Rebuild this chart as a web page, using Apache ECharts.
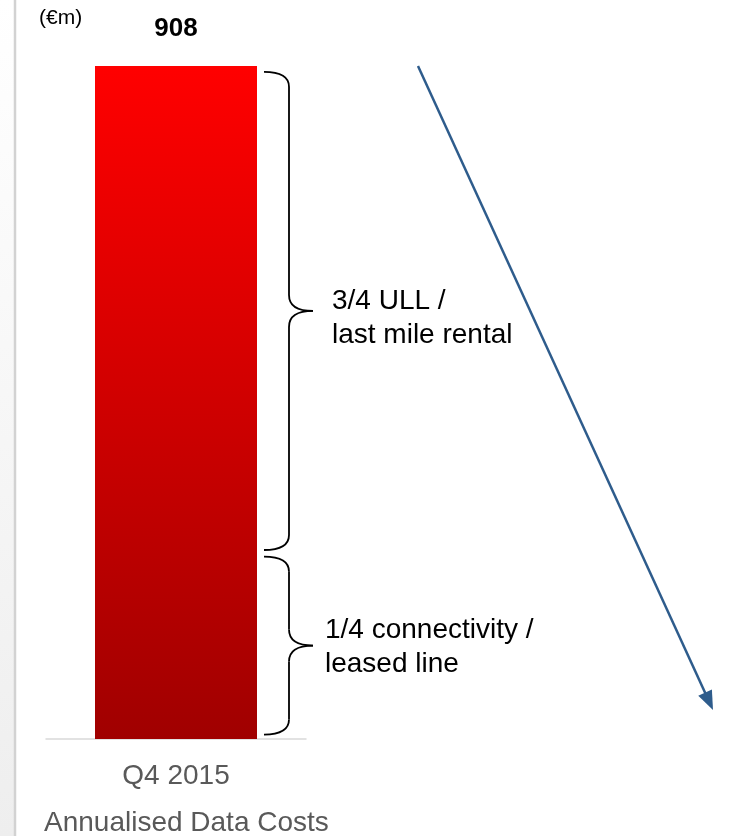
<!DOCTYPE html>
<html>
<head>
<meta charset="utf-8">
<script src="https://cdn.jsdelivr.net/npm/echarts@6/dist/echarts.min.js"></script>
<style>
html,body{margin:0;padding:0;background:#fff;}
#main{width:733px;height:836px;}
</style>
</head>
<body>
<div id="main"></div>
<script>
// ---- data ----
const categories = ['Q4 2015'];
const costValues = [908];
const unitLabel = '(€m)';
const axisTitle = 'Annualised Data Costs';
// brace ranges in €m, bottom -> top
const braceRanges = [[6, 246], [255, 900]];
const braceLabels = ['1/4 connectivity /\nleased line', '3/4 ULL /\nlast mile rental'];

const FONT = '"Liberation Sans", Arial, sans-serif';
const chart = echarts.init(document.getElementById('main'), null, {renderer: 'canvas'});

const option = {
  animation: false,
  backgroundColor: '#ffffff',
  grid: {left: 46, width: 260, top: 66, bottom: 97},
  xAxis: {
    type: 'category',
    data: categories,
    axisLine: {show: true, lineStyle: {color: '#d9d9d9', width: 1.5}},
    axisTick: {show: false},
    axisLabel: {color: '#595959', fontSize: 28, fontFamily: FONT, margin: 23}
  },
  yAxis: {
    type: 'value', min: 0, max: 908, show: false,
    splitLine: {show: false}
  },
  series: [{
    type: 'bar',
    data: costValues,
    barWidth: 162,
    itemStyle: {
      color: new echarts.graphic.LinearGradient(0, 0, 0, 1, [
        {offset: 0, color: '#ff0000'},
        {offset: 1, color: '#a00000'}
      ])
    },
    label: {
      show: true, position: 'top', distance: 24,
      color: '#000', fontWeight: 'bold', fontSize: 26, fontFamily: FONT
    }
  }]
};
chart.setOption(option);

function buildGraphics() {
  const g = [];
  // left edge decoration
  g.push({type: 'rect', shape: {x: 0, y: 0, width: 14, height: 836},
    style: {fill: new echarts.graphic.LinearGradient(0, 0, 0, 1, [
      {offset: 0, color: '#ffffff'}, {offset: 1, color: '#eeeeee'}])}, silent: true});
  g.push({type: 'line', shape: {x1: 15, y1: 0, x2: 15, y2: 836},
    style: {stroke: '#d2d2d2', lineWidth: 2.5}, silent: true});

  g.push({type: 'text', x: 39, y: 18,
    style: {text: unitLabel, fontSize: 21, fontFamily: FONT, fill: '#000', verticalAlign: 'middle'}});
  g.push({type: 'text', x: 44, y: 823,
    style: {text: axisTitle, fontSize: 28, fontFamily: FONT, fill: '#595959', verticalAlign: 'middle'}});

  // braces
  const x0 = 264, xv = 289, xt = 313, rEnd = 15, rMid = 16;
  const bs = {fill: null, stroke: '#000', lineWidth: 1.8};
  braceRanges.forEach((r, i) => {
    const yb = chart.convertToPixel({yAxisIndex: 0}, r[0]);
    const yt = chart.convertToPixel({yAxisIndex: 0}, r[1]);
    const ym = (yt + yb) / 2;
    g.push({type: 'bezierCurve', shape: {x1: x0, y1: yt, cpx1: xv, cpy1: yt, x2: xv, y2: yt + rEnd}, style: bs, silent: true});
    g.push({type: 'line', shape: {x1: xv, y1: yt + rEnd, x2: xv, y2: ym - rMid}, style: bs, silent: true});
    g.push({type: 'bezierCurve', shape: {x1: xv, y1: ym - rMid, cpx1: xv, cpy1: ym, x2: xt, y2: ym}, style: bs, silent: true});
    g.push({type: 'bezierCurve', shape: {x1: xt, y1: ym, cpx1: xv, cpy1: ym, x2: xv, y2: ym + rMid}, style: bs, silent: true});
    g.push({type: 'line', shape: {x1: xv, y1: ym + rMid, x2: xv, y2: yb - rEnd}, style: bs, silent: true});
    g.push({type: 'bezierCurve', shape: {x1: xv, y1: yb - rEnd, cpx1: xv, cpy1: yb, x2: x0, y2: yb}, style: bs, silent: true});
    g.push({type: 'text', x: i === 0 ? 325 : 332, y: ym + (i === 0 ? 2 : 7),
      style: {text: braceLabels[i], fontSize: 28, lineHeight: 34, fontFamily: FONT, fill: '#000', verticalAlign: 'middle'}});
  });

  // trend arrow
  const ax1 = 418, ay1 = chart.convertToPixel({yAxisIndex: 0}, costValues[0]);
  const ax2 = 713, ay2 = 710;
  const dx = ax2 - ax1, dy = ay2 - ay1, len = Math.sqrt(dx * dx + dy * dy);
  const ux = dx / len, uy = dy / len, px = -uy, py = ux;
  const L = 19, W = 7.5;
  const bx = ax2 - L * ux, by = ay2 - L * uy;
  g.push({type: 'line', shape: {x1: ax1, y1: ay1, x2: bx + 2 * ux, y2: by + 2 * uy},
    style: {stroke: '#2e5c8c', lineWidth: 2.5}, silent: true});
  g.push({type: 'polygon', shape: {points: [[ax2, ay2], [bx + W * px, by + W * py], [bx - W * px, by - W * py]]},
    style: {fill: '#2e5c8c'}, silent: true});
  return g;
}
chart.setOption({graphic: buildGraphics()});
</script>
</body>
</html>
